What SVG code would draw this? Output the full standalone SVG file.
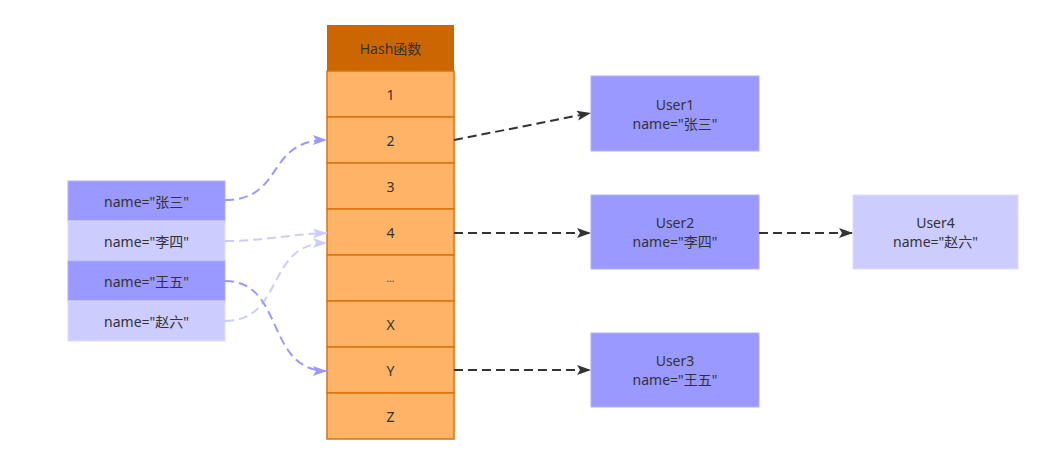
<svg xmlns="http://www.w3.org/2000/svg" width="1057" height="463" viewBox="0 0 1057 463">
<defs>
<style>
text{font-family:"Noto Sans","Noto Sans CJK SC",sans-serif;font-size:14px;fill:#333;text-anchor:middle;dominant-baseline:central}
.cell{fill:#FFB366;stroke:#D9740F;stroke-width:1.5}
.dark{fill:#9999FF;stroke:#B0B0FF;stroke-width:1}
.light{fill:#CCCCFF;stroke:#DCDCFF;stroke-width:1}
.blk{fill:none;stroke:#333;stroke-width:2;stroke-dasharray:9,5}
.blue{fill:none;stroke:#9999FF;stroke-width:2;stroke-dasharray:9,5}
.lblue{fill:none;stroke:#CCCCFF;stroke-width:2;stroke-dasharray:9,5}
</style>
<marker id="ab" viewBox="0 0 14 10" refX="14" refY="5" markerWidth="14" markerHeight="10" markerUnits="userSpaceOnUse" orient="auto"><path d="M0,0L14,5L0,10L3,5z" fill="#333"/></marker>
<marker id="ab2" viewBox="0 0 14 10" refX="14" refY="5" markerWidth="14" markerHeight="10" markerUnits="userSpaceOnUse" orient="auto"><path d="M0,0L14,5L0,10L3,5z" fill="#9999FF"/></marker>
<marker id="ab3" viewBox="0 0 14 10" refX="14" refY="5" markerWidth="14" markerHeight="10" markerUnits="userSpaceOnUse" orient="auto"><path d="M0,0L14,5L0,10L3,5z" fill="#CCCCFF"/></marker>
</defs>
<rect width="1057" height="463" fill="#fff"/>
<g id="hash">
<g id="hash-header"><rect x="327" y="25" width="127" height="46" fill="#CC6600"/><text x="390.5" y="48">Hash函数</text></g>
<g id="cell-1"><rect class="cell" x="327" y="71" width="127" height="46"/><text x="390.5" y="94">1</text></g>
<g id="cell-2"><rect class="cell" x="327" y="117" width="127" height="46"/><text x="390.5" y="140">2</text></g>
<g id="cell-3"><rect class="cell" x="327" y="163" width="127" height="46"/><text x="390.5" y="186">3</text></g>
<g id="cell-4"><rect class="cell" x="327" y="209" width="127" height="46"/><text x="390.5" y="232">4</text></g>
<g id="cell-dots"><rect class="cell" x="327" y="255" width="127" height="46"/><text x="390.5" y="278" style="font-size:10px">...</text></g>
<g id="cell-X"><rect class="cell" x="327" y="301" width="127" height="46"/><text x="390.5" y="324">X</text></g>
<g id="cell-Y"><rect class="cell" x="327" y="347" width="127" height="46"/><text x="390.5" y="370">Y</text></g>
<g id="cell-Z"><rect class="cell" x="327" y="393" width="127" height="46"/><text x="390.5" y="416">Z</text></g>
</g>
<g id="key-zhangsan"><rect class="dark" x="68" y="181" width="157" height="40"/><text x="146.5" y="201">name="张三"</text></g>
<g id="key-lisi"><rect class="light" x="68" y="221" width="157" height="40"/><text x="146.5" y="241">name="李四"</text></g>
<g id="key-wangwu"><rect class="dark" x="68" y="261" width="157" height="40"/><text x="146.5" y="281">name="王五"</text></g>
<g id="key-zhaoliu"><rect class="light" x="68" y="301" width="157" height="40"/><text x="146.5" y="321">name="赵六"</text></g>
<g id="user1"><rect class="dark" x="591" y="76" width="168" height="75"/><text x="675" y="104">User1</text><text x="675" y="123">name="张三"</text></g>
<g id="user2"><rect class="dark" x="591" y="195" width="168" height="74"/><text x="675" y="222">User2</text><text x="675" y="241">name="李四"</text></g>
<g id="user3"><rect class="dark" x="591" y="333" width="168" height="74"/><text x="675" y="360">User3</text><text x="675" y="379">name="王五"</text></g>
<g id="user4"><rect class="light" x="853" y="195" width="165" height="74"/><text x="935.5" y="222">User4</text><text x="935.5" y="241">name="赵六"</text></g>
<g id="connectors">
<path class="blue" d="M225,200 C285,200 265,140 327,140" marker-end="url(#ab2)"/>
<path class="lblue" d="M225,241 C265,241 290,234 327,233" marker-end="url(#ab3)"/>
<path class="lblue" d="M225,321 C285,321 265,243 327,243" marker-end="url(#ab3)"/>
<path class="blue" d="M225,281 C285,281 265,371 327,371" marker-end="url(#ab2)"/>
<path class="blk" d="M454,140 L591,113" marker-end="url(#ab)"/>
<path class="blk" d="M454,233 L591,233" marker-end="url(#ab)"/>
<path class="blk" d="M759,233 L853,233" marker-end="url(#ab)"/>
<path class="blk" d="M454,370 L591,370" marker-end="url(#ab)"/>
</g>
</svg>
